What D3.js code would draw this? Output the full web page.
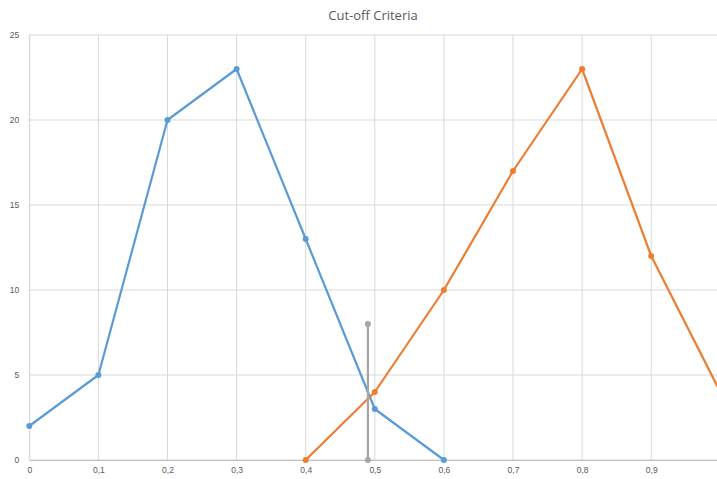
<!DOCTYPE html>
<html>
<head>
<meta charset="utf-8">
<script src="https://cdn.jsdelivr.net/npm/d3@7"></script>
<style>
  html, body { margin: 0; padding: 0; background: #fff; }
  svg { display: block; font-family: "Open Sans", "Noto Sans", sans-serif; }
</style>
</head>
<body>
<svg id="chart" width="717" height="479"></svg>
<script>
// Data
const title = "Cut-off Criteria";
const blueX = [0, 0.1, 0.2, 0.3, 0.4, 0.5, 0.6];
const blueY = [2, 5, 20, 23, 13, 3, 0];
const orangeX = [0.4, 0.5, 0.6, 0.7, 0.8, 0.9, 1.0];
const orangeY = [0, 4, 10, 17, 23, 12, 4];
const cutoffX = [0.49, 0.49];
const cutoffY = [0, 8];
const xTicks = [0, 0.1, 0.2, 0.3, 0.4, 0.5, 0.6, 0.7, 0.8, 0.9];
const yTicks = [0, 5, 10, 15, 20, 25];

(function () {
  const svg = d3.select("#chart");
  const plotLeft = 29.3, plotRight = 720.3, plotTop = 35, plotBottom = 460;

  const x = d3.scaleLinear().domain([0, 1]).range([plotLeft, plotRight]);
  const y = d3.scaleLinear().domain([0, 25]).range([plotBottom, plotTop]);

  const gridColor = "#d9d9d9";
  const textColor = "#595959";

  // Horizontal gridlines
  svg.append("g").selectAll("line").data(yTicks).join("line")
    .attr("x1", plotLeft).attr("x2", plotRight)
    .attr("y1", d => y(d)).attr("y2", d => y(d))
    .attr("stroke", gridColor).attr("stroke-width", 1);

  // Vertical gridlines
  svg.append("g").selectAll("line").data(xTicks.concat([1])).join("line")
    .attr("x1", d => x(d)).attr("x2", d => x(d))
    .attr("y1", plotTop).attr("y2", plotBottom)
    .attr("stroke", gridColor).attr("stroke-width", 1);

  // Axes
  const xAxis = d3.axisBottom(x).tickValues(xTicks).tickSize(0).tickPadding(7)
    .tickFormat(d => String(d).replace(".", ","));
  const gx = svg.append("g").attr("transform", `translate(0,${plotBottom})`).call(xAxis);
  gx.select(".domain").attr("stroke", "#bfbfbf");
  gx.selectAll("text").attr("fill", textColor).attr("font-size", 8.5);

  const yAxis = d3.axisLeft(y).tickValues(yTicks).tickSize(0).tickPadding(10);
  const gy = svg.append("g").attr("transform", `translate(${plotLeft},0)`).call(yAxis);
  gy.select(".domain").attr("stroke", gridColor);
  gy.selectAll("text").attr("fill", textColor).attr("font-size", 8.5);

  // Series
  const line = d3.line().x(d => x(d[0])).y(d => y(d[1]));
  function series(xs, ys, color) {
    const pts = xs.map((v, i) => [v, ys[i]]);
    svg.append("path").datum(pts)
      .attr("d", line).attr("fill", "none")
      .attr("stroke", color).attr("stroke-width", 2.2)
      .attr("stroke-linejoin", "round");
    svg.append("g").selectAll("circle").data(pts).join("circle")
      .attr("cx", d => x(d[0])).attr("cy", d => y(d[1])).attr("r", 3)
      .attr("fill", color);
  }
  series(blueX, blueY, "#5b9bd5");
  series(orangeX, orangeY, "#ed7d31");
  series(cutoffX, cutoffY, "#a5a5a5");

  // Title
  svg.append("text").attr("x", 373).attr("y", 20)
    .attr("text-anchor", "middle").attr("fill", textColor)
    .attr("font-size", 13).text(title);
})();
</script>
</body>
</html>
